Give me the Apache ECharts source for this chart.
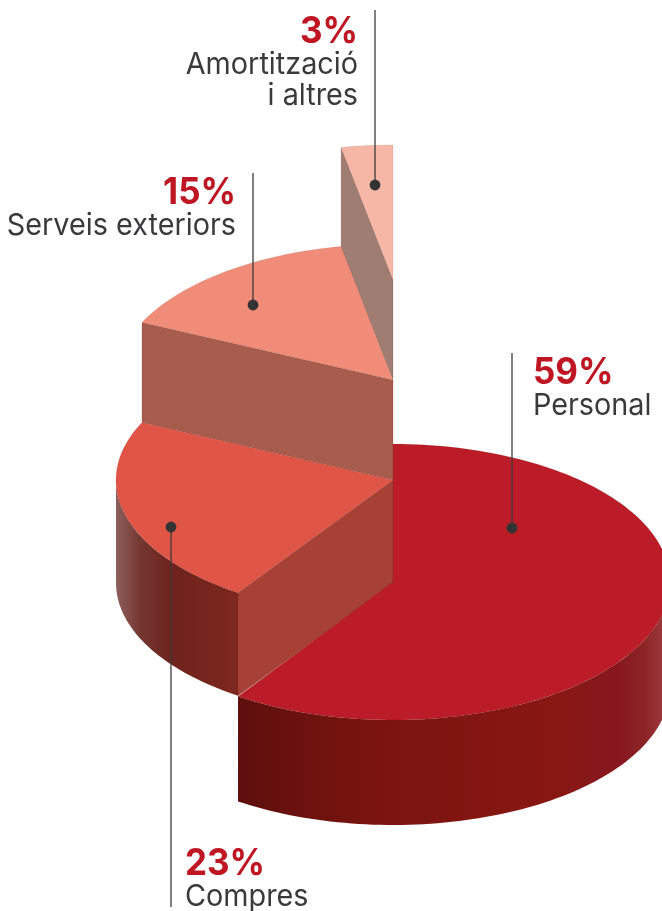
<!DOCTYPE html>
<html>
<head>
<meta charset="utf-8">
<style>html,body{margin:0;padding:0;background:#fff}#c{width:662px;height:911px}</style>
<script src="https://cdn.jsdelivr.net/npm/echarts@6/dist/echarts.min.js"></script>
</head>
<body>
<div id="c"></div>
<script>
// --- data ---
var categories = ['Personal', 'Compres', 'Serveis exteriors', 'Amortització\ni altres'];
var shares = [59.45, 22.5, 15.05, 3];

// --- styling and layout ---
var topColors = ['#BB1C27', '#E05546', '#F08C78', '#F7B7A6'];
var radialWallColors = ['#8A1714', '#A74035', '#A85C4D', '#9F7D72'];
var outerWallStops = [
  [[0, '#5E0F0D'], [0.3, '#7A140F'], [0.75, '#891713'], [0.88, '#861720'], [0.94, '#8C2426'], [1, '#A04044']],
  [[0, '#8C605B'], [0.2, '#743732'], [0.45, '#6E231C'], [1, '#7D271F']],
  null, null
];
var centerX = 393, radiusX = 277;
var radiusY = [138, 136, 136, 135];
var tipY = [582, 480, 380, 280];
var depth = [105, 103, 100, 100];
var labelAnchor = [[533, 'left', 391.5], [185, 'left', 882.5], [236, 'right', 211.5], [358, 'right', 50.5]];
var leaderLine = [[512, 353, 528], [171, 907, 527], [253, 173, 305], [375, 10, 185]];

var total = shares.reduce(function (a, b) { return a + b; }, 0);

function pt(i, deg, dy) {
  var a = deg * Math.PI / 180;
  return [centerX + radiusX * Math.sin(a), tipY[i] - radiusY[i] * Math.cos(a) + (dy || 0)];
}
function arc(i, from, to, dy) {
  var out = [], n = Math.max(2, Math.ceil(Math.abs(to - from) / 1.5));
  for (var k = 0; k <= n; k++) out.push(pt(i, from + (to - from) * k / n, dy));
  return out;
}
function renderSlice(params, api) {
  var i = params.dataIndex, before = 0;
  for (var k = 0; k < i; k++) before += shares[k];
  var start = before / total * 360;
  var end = start + api.value(0) / total * 360;
  var tip = [centerX, tipY[i]];
  var children = [];
  var z = 10 * (4 - i);
  if (start > 0) {
    var p = pt(i, start);
    children.push({
      type: 'polygon', z2: z,
      shape: { points: [tip, p, [p[0], p[1] + depth[i]], [tip[0], tip[1] + depth[i]]] },
      style: { fill: radialWallColors[i], stroke: 'rgba(70,25,20,0.25)', lineWidth: 0.6 }
    });
  }
  var wFrom = Math.max(start, 90), wTo = Math.min(end, 270);
  if (wTo > wFrom && outerWallStops[i]) {
    children.push({
      type: 'polygon', z2: z + 1,
      shape: { points: arc(i, wFrom, wTo, 0).concat(arc(i, wTo, wFrom, depth[i])) },
      style: {
        fill: {
          type: 'linear', x: 0, y: 0, x2: 1, y2: 0,
          colorStops: outerWallStops[i].map(function (s) { return { offset: s[0], color: s[1] }; })
        }
      }
    });
  }
  children.push({
    type: 'polygon', z2: z + 2,
    shape: { points: [tip].concat(arc(i, start, end, 0)) },
    style: { fill: topColors[i], stroke: 'rgba(70,25,20,0.18)', lineWidth: 0.5 }
  });
  return { type: 'group', children: children };
}
function renderNote(params, api) {
  var i = params.dataIndex;
  var a = labelAnchor[i], l = leaderLine[i];
  var lines = categories[i].split('\n');
  var kids = [
    { type: 'line', shape: { x1: l[0], y1: l[1], x2: l[0], y2: l[2] }, style: { stroke: '#3C3C3C', lineWidth: 1.3 } },
    { type: 'circle', shape: { cx: l[0], cy: l[2], r: 5.4 }, style: { fill: '#333333' } },
    { type: 'text', x: a[0], y: a[2], scaleX: 0.945, style: {
        text: Math.round(api.value(0)) + '%', fill: '#BE1622', align: a[1], verticalAlign: 'bottom',
        font: '700 37px Inter', lineHeight: 37 } }
  ];
  lines.forEach(function (t, k) {
    kids.push({ type: 'text', x: a[0], y: a[2] + 29.5 + k * 30.5, scaleX: 0.96, style: {
      text: t, fill: '#3A3A3C', align: a[1], verticalAlign: 'bottom',
      font: '400 30px Inter', lineHeight: 30 } });
  });
  return { type: 'group', children: kids };
}
var chart = echarts.init(document.getElementById('c'), null, { renderer: 'canvas' });
chart.setOption({
  animation: false,
  backgroundColor: '#ffffff',
  series: [
    { type: 'custom', coordinateSystem: 'none', silent: true, z: 2, renderItem: renderSlice,
      data: shares.map(function (v, i) { return { name: categories[i], value: [v] }; }) },
    { type: 'custom', coordinateSystem: 'none', silent: true, z: 3, renderItem: renderNote,
      data: shares.map(function (v, i) { return { name: categories[i], value: [v] }; }) }
  ]
});
</script>
</body>
</html>
